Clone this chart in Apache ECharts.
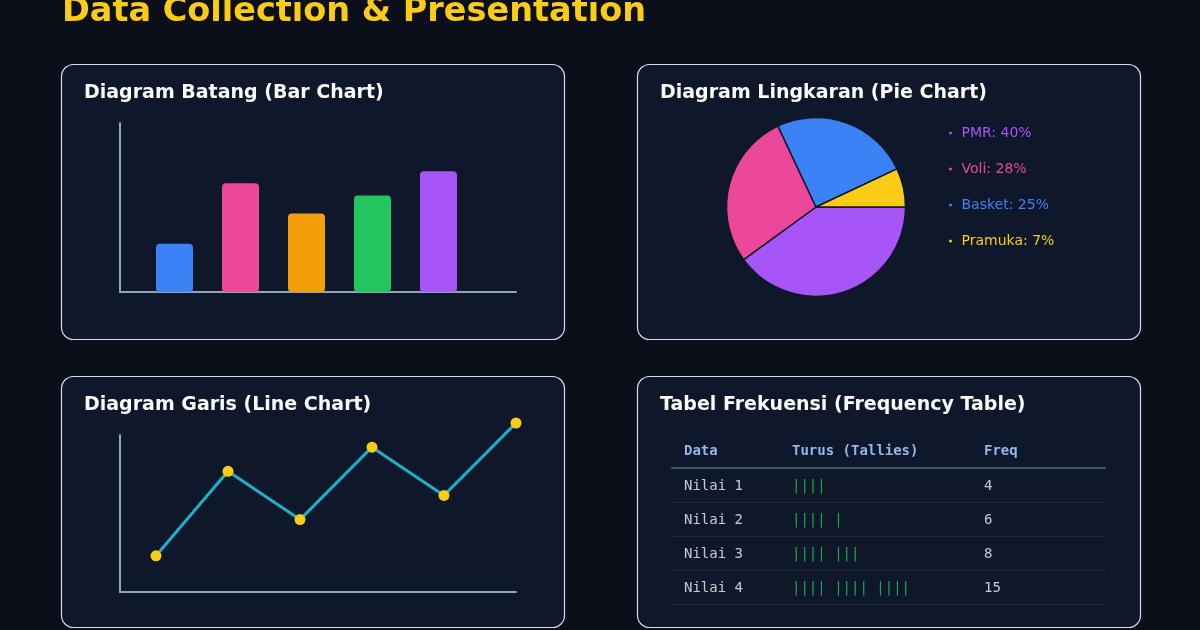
<!DOCTYPE html>
<html><head><meta charset="utf-8">
<script src="https://cdn.jsdelivr.net/npm/echarts@6/dist/echarts.min.js"></script>
<style>html,body{margin:0;padding:0;background:#0b0f19;}#c{width:1200px;height:630px;}</style>
</head><body><div id="c"></div>
<script>
// ---- data ----
const barCategories = ['A', 'B', 'C', 'D', 'E'];
const barValues = [40, 90, 65, 80, 100];
const barColors = ['#3b82f6', '#ec4899', '#f59e0b', '#22c55e', '#a855f7'];

const pieNames = ['PMR', 'Voli', 'Basket', 'Pramuka'];
const pieValues = [40, 28, 25, 7];
const pieColors = ['#a855f7', '#ec4899', '#3b82f6', '#facc15'];

const lineCategories = ['1', '2', '3', '4', '5', '6'];
const lineValues = [15, 50, 30, 60, 40, 70];

const tableHeaders = ['Data', 'Turus (Tallies)', 'Freq'];
const tableRows = ['Nilai 1', 'Nilai 2', 'Nilai 3', 'Nilai 4'];
const tableTallies = ['||||', '|||| |', '|||| |||', '|||| |||| ||||'];
const tableFreq = [4, 6, 8, 15];

// ---- layout ----
const axisCol = '#94a3b8';
const panelBg = '#0f172a';
const panelBorder = '#d6dde6';
const panels = [[61, 64, 503, 275], [637, 64, 503, 275], [61, 376, 503, 251], [637, 376, 503, 251]];
const tableLeft = 672, tableWidth = 433;
const colX = [12, 120, 312];

const chart = echarts.init(document.getElementById('c'));
const frameAxisLine = { show: true, lineStyle: { color: axisCol, width: 2 } };
const hiddenAxis = { show: false };

const titleStyle = { color: '#f8fafc', fontSize: 19, fontWeight: 'bold', fontFamily: 'DejaVu Sans' };
const mono = 'DejaVu Sans Mono';

const option = {
  backgroundColor: '#0b0f19',
  animation: false,
  title: [
    { text: 'Data Collection & Presentation', left: 57, top: -10, textStyle: { color: '#facc15', fontSize: 33.5, fontWeight: 'bold', fontFamily: 'DejaVu Sans' } },
    { text: 'Diagram Batang (Bar Chart)', left: 79, top: 79, textStyle: titleStyle },
    { text: 'Diagram Lingkaran (Pie Chart)', left: 655, top: 79, textStyle: titleStyle },
    { text: 'Diagram Garis (Line Chart)', left: 79, top: 391, textStyle: titleStyle },
    { text: 'Tabel Frekuensi (Frequency Table)', left: 655, top: 391, textStyle: titleStyle }
  ].concat(tableHeaders.map((h, i) => ({
    text: h, left: tableLeft + colX[i] - 5, top: 439,
    textStyle: { color: '#93b8ec', fontSize: 14, fontWeight: 'bold', fontFamily: mono }
  }))),
  graphic: panels.map(p => ({
    type: 'rect', z: -10, silent: true,
    shape: { x: p[0] + 0.5, y: p[1] + 0.5, width: p[2], height: p[3], r: 12 },
    style: { fill: panelBg, stroke: panelBorder, lineWidth: 1.2 }
  })),
  legend: {
    orient: 'vertical', left: 942, top: 120,
    data: pieNames.map((n, i) => ({ name: n, textStyle: { color: pieColors[i] } })),
    icon: 'circle', itemWidth: 12, itemHeight: 5, itemGap: 20,
    textStyle: { fontSize: 14, fontFamily: 'DejaVu Sans', lineHeight: 16 },
    formatter: name => name + ': ' + pieValues[pieNames.indexOf(name)] + '%',
    selectedMode: false
  },
  grid: [
    { left: 120, top: 123, width: 396, height: 169 },
    { left: 141.5, top: 123, width: 330, height: 169 },
    { left: 120, top: 435, width: 396, height: 157 },
    { left: 156, top: 423, width: 360, height: 169 },
    { left: tableLeft, top: 468, width: tableWidth, height: 136 }
  ],
  xAxis: [
    { gridIndex: 0, type: 'value', min: 0, max: 1, axisLine: frameAxisLine, axisTick: hiddenAxis, axisLabel: hiddenAxis, splitLine: hiddenAxis },
    { gridIndex: 1, type: 'category', data: barCategories, axisLine: hiddenAxis, axisTick: hiddenAxis, axisLabel: hiddenAxis },
    { gridIndex: 2, type: 'value', min: 0, max: 1, axisLine: frameAxisLine, axisTick: hiddenAxis, axisLabel: hiddenAxis, splitLine: hiddenAxis },
    { gridIndex: 3, type: 'category', boundaryGap: false, data: lineCategories, axisLine: hiddenAxis, axisTick: hiddenAxis, axisLabel: hiddenAxis },
    { gridIndex: 4, type: 'value', min: 0, max: tableWidth, position: 'top', axisLine: { show: true, lineStyle: { color: '#475569', width: 2 } }, axisTick: hiddenAxis, axisLabel: hiddenAxis, splitLine: hiddenAxis }
  ],
  yAxis: [
    { gridIndex: 0, type: 'value', min: 0, max: 1, axisLine: frameAxisLine, axisTick: hiddenAxis, axisLabel: hiddenAxis, splitLine: hiddenAxis },
    { gridIndex: 1, type: 'value', min: 0, max: 140, show: false },
    { gridIndex: 2, type: 'value', min: 0, max: 1, axisLine: frameAxisLine, axisTick: hiddenAxis, axisLabel: hiddenAxis, splitLine: hiddenAxis },
    { gridIndex: 3, type: 'value', min: 0, max: 70, show: false },
    { gridIndex: 4, type: 'category', inverse: true, data: tableRows, axisLine: hiddenAxis, axisTick: hiddenAxis, axisLabel: hiddenAxis, splitLine: { show: true, lineStyle: { color: '#1e293b', width: 1 } } }
  ],
  series: [
    {
      type: 'bar', xAxisIndex: 1, yAxisIndex: 1, barWidth: 37,
      data: barValues.map((v, i) => ({ value: v, itemStyle: { color: barColors[i] } })),
      itemStyle: { borderRadius: 4 }
    },
    {
      type: 'pie', center: [816, 207], radius: 89.5, startAngle: 0, clockwise: true,
      label: { show: false }, labelLine: { show: false },
      itemStyle: { borderColor: '#0f172a', borderWidth: 1.5 },
      data: pieNames.map((n, i) => ({ name: n, value: pieValues[i], itemStyle: { color: pieColors[i] } }))
    },
    {
      type: 'line', xAxisIndex: 3, yAxisIndex: 3, data: lineValues, clip: false,
      lineStyle: { color: '#1fafc8', width: 3 },
      symbol: 'circle', symbolSize: 11, itemStyle: { color: '#facc15' }
    },
    {
      type: 'scatter', xAxisIndex: 4, yAxisIndex: 4, symbolSize: 0,
      data: tableRows.map((r, i) => [colX[0], i]),
      label: { show: true, position: 'right', distance: 0, offset: [0, 1.5], formatter: p => tableRows[p.dataIndex], color: '#f1f5f9', fontSize: 14, fontFamily: mono }
    },
    {
      type: 'scatter', xAxisIndex: 4, yAxisIndex: 4, symbolSize: 0,
      data: tableTallies.map((t, i) => [colX[1], i]),
      label: { show: true, position: 'right', distance: 0, offset: [0, 1.5], formatter: p => tableTallies[p.dataIndex], color: '#22c55e', fontSize: 14, fontFamily: mono }
    },
    {
      type: 'scatter', xAxisIndex: 4, yAxisIndex: 4, symbolSize: 0,
      data: tableFreq.map((f, i) => [colX[2], i]),
      label: { show: true, position: 'right', distance: 0, offset: [0, 1.5], formatter: p => String(tableFreq[p.dataIndex]), color: '#f1f5f9', fontSize: 14, fontFamily: mono }
    }
  ]
};
chart.setOption(option);
</script></body></html>
